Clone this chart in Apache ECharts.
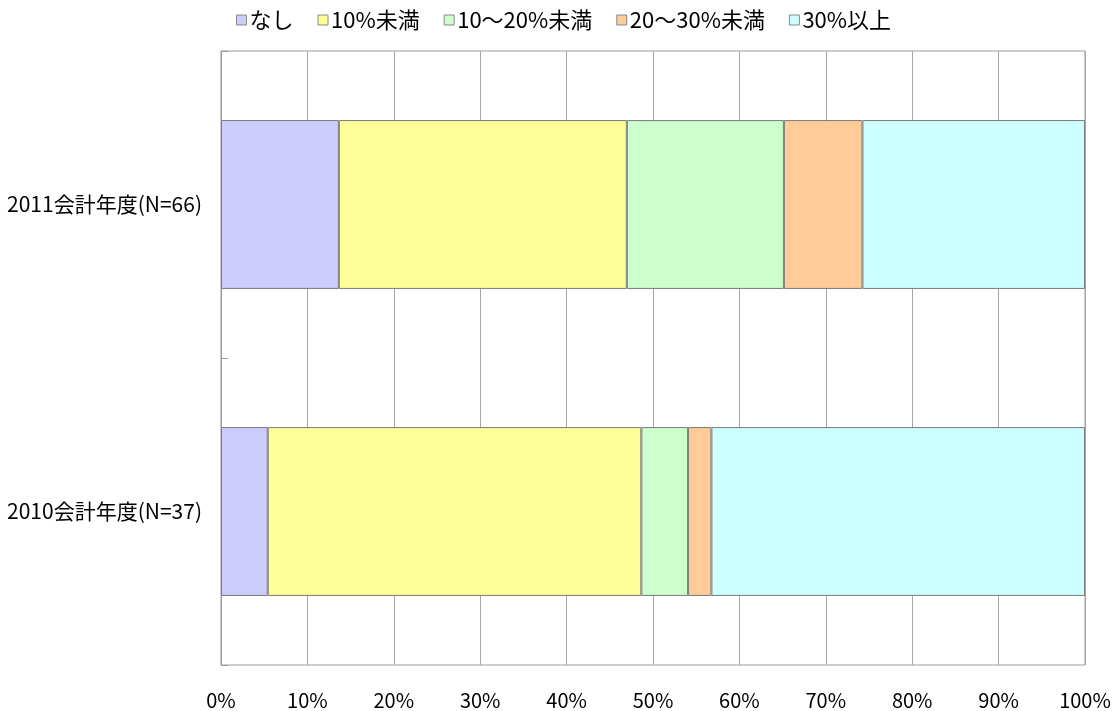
<!DOCTYPE html>
<html>
<head>
<meta charset="utf-8">
<script src="https://cdn.jsdelivr.net/npm/echarts@6/dist/echarts.min.js"></script>
<style>html,body{margin:0;padding:0;background:#fff}#chart{width:1116px;height:711px}</style>
</head>
<body>
<div id="chart"></div>
<script>
// 年度ごとの割合（%）
var categories = ['2010会計年度(N=37)', '2011会計年度(N=66)'];
var seriesNames = ['なし', '10%未満', '10～20%未満', '20～30%未満', '30%以上'];
var vNashi = [5.41, 13.64];
var vUnder10 = [43.24, 33.33];
var v10to20 = [5.41, 18.18];
var v20to30 = [2.70, 9.09];
var vOver30 = [43.24, 25.76];
var xTicks = [0, 10, 20, 30, 40, 50, 60, 70, 80, 90, 100];

var colors = ['#CCCCFF', '#FFFF99', '#CCFFCC', '#FFCC99', '#CCFFFF'];
var values = [vNashi, vUnder10, v10to20, v20to30, vOver30];
var font = '"Noto Sans CJK JP", sans-serif';

var series = [];
for (var i = 0; i < seriesNames.length; i++) {
    series.push({
        name: seriesNames[i],
        type: 'bar',
        stack: 'total',
        barWidth: '55%',
        itemStyle: { color: colors[i], borderColor: '#7a7a7a', borderWidth: 1 },
        data: values[i]
    });
}

var chart = echarts.init(document.getElementById('chart'));
chart.setOption({
    animation: false,
    textStyle: { fontFamily: font },
    color: colors,
    legend: {
        top: 4,
        left: 231,
        itemWidth: 10,
        itemHeight: 10,
        itemGap: 24,
        icon: 'rect',
        itemStyle: { borderColor: '#888', borderWidth: 1 },
        textStyle: { fontSize: 22, color: '#000', fontFamily: font, padding: [0, 0, 0, -2] },
        data: seriesNames
    },
    grid: { left: 221, right: 31, top: 51, bottom: 46, show: true, borderColor: '#999', borderWidth: 1 },
    xAxis: {
        type: 'value',
        min: 0,
        max: 100,
        interval: 10,
        axisLine: { show: false },
        axisTick: { show: false },
        splitLine: { show: true, lineStyle: { color: '#a6a6a6', width: 1 } },
        axisLabel: {
            margin: 25,
            fontSize: 20,
            color: '#000',
            formatter: function (v) { return xTicks.indexOf(v) >= 0 ? v + '%' : ''; }
        }
    },
    yAxis: {
        type: 'category',
        data: categories,
        axisLine: { show: true, lineStyle: { color: '#999' } },
        axisTick: { show: true, inside: true, length: 7, lineStyle: { color: '#999' } },
        axisLabel: { margin: 19, fontSize: 21, color: '#000' }
    },
    series: series
});
</script>
</body>
</html>
